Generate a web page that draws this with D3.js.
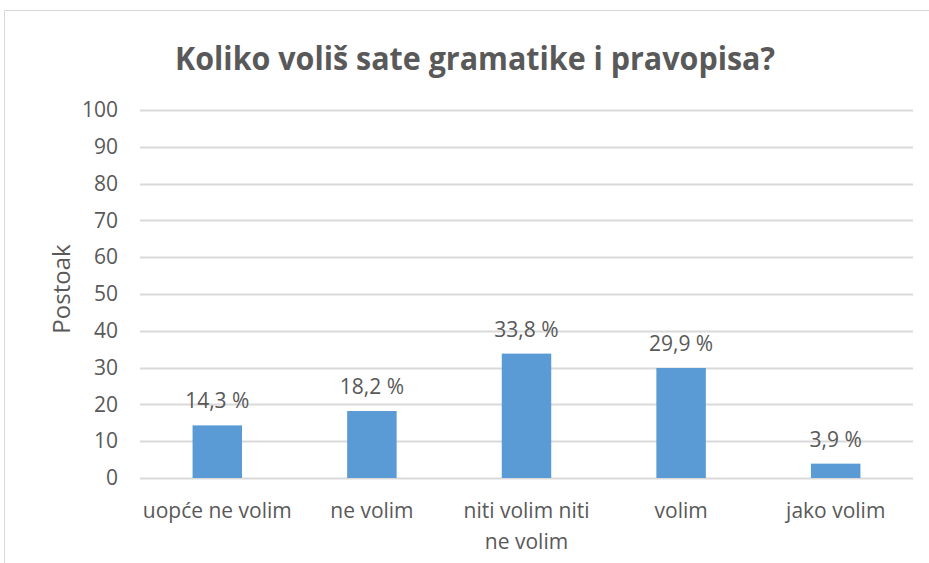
<!DOCTYPE html>
<html>
<head>
<meta charset="utf-8">
<script src="https://cdn.jsdelivr.net/npm/d3@7"></script>
<style>
  body { margin: 0; background: #fff; }
  text { font-family: "Open Sans", "Noto Sans", sans-serif; fill: #595959; }
</style>
</head>
<body>
<div id="chart-area"></div>
<script>
// data
var categories = ["uopće ne volim", "ne volim", "niti volim niti ne volim", "volim", "jako volim"];
var catLines = [["uopće ne volim"], ["ne volim"], ["niti volim niti", "ne volim"], ["volim"], ["jako volim"]];
var values = [14.3, 18.2, 33.8, 29.9, 3.9];
var yTicks = [0, 10, 20, 30, 40, 50, 60, 70, 80, 90, 100];

var W = 929, H = 563;
var margin = {top: 110, right: 16, bottom: 85, left: 140};
var width = W - margin.left - margin.right,
    height = H - margin.top - margin.bottom;

var svg = d3.select("#chart-area").append("svg")
    .attr("width", W)
    .attr("height", H);

// chart frame
svg.append("path")
    .attr("d", "M4.5," + H + "V10.5H" + W)
    .attr("fill", "none")
    .attr("stroke", "#d9d9d9")
    .attr("stroke-width", 1);

svg.append("text")
    .attr("x", 475)
    .attr("y", 70)
    .attr("text-anchor", "middle")
    .attr("font-size", 33)
    .attr("font-weight", "bold")
    .attr("textLength", 600)
    .attr("lengthAdjust", "spacingAndGlyphs")
    .text("Koliko voliš sate gramatike i pravopisa?");

var g = svg.append("g")
    .attr("transform", "translate(" + margin.left + "," + margin.top + ")");

var x = d3.scaleBand()
    .domain(categories)
    .range([0, width])
    .paddingInner(0.68)
    .paddingOuter(0.34);

var y = d3.scaleLinear()
    .domain([0, 100])
    .range([height, 0]);

// gridlines
g.selectAll(".grid")
    .data(yTicks)
    .enter().append("line")
    .attr("class", "grid")
    .attr("x1", 0)
    .attr("x2", width)
    .attr("y1", function (d) { return Math.round(y(d)) + 0.5; })
    .attr("y2", function (d) { return Math.round(y(d)) + 0.5; })
    .attr("stroke", "#d9d9d9")
    .attr("stroke-width", 2);

// y axis
var yAxis = g.append("g")
    .attr("class", "y-axis")
    .call(d3.axisLeft(y).tickValues(yTicks).tickSize(0).tickPadding(22));
yAxis.select(".domain").remove();
yAxis.selectAll("text")
    .attr("font-size", 21)
    .attr("fill", "#595959");

svg.append("text")
    .attr("transform", "translate(70," + (margin.top + height / 2 - 5) + ") rotate(-90)")
    .attr("text-anchor", "middle")
    .attr("font-size", 24)
    .text("Postoak");

// bars
g.selectAll(".bar")
    .data(values)
    .enter().append("rect")
    .attr("class", "bar")
    .attr("x", function (d, i) { return x(categories[i]); })
    .attr("width", x.bandwidth())
    .attr("y", function (d) { return y(d); })
    .attr("height", function (d) { return height - y(d); })
    .attr("fill", "#5b9bd5");

// value labels
g.selectAll(".val")
    .data(values)
    .enter().append("text")
    .attr("class", "val")
    .attr("x", function (d, i) { return x(categories[i]) + x.bandwidth() / 2; })
    .attr("y", function (d) { return y(d) - 17; })
    .attr("text-anchor", "middle")
    .attr("font-size", 21)
    .text(function (d) { return d.toFixed(1).replace(".", ",") + " %"; });

// category labels
var cat = g.selectAll(".cat")
    .data(catLines)
    .enter().append("text")
    .attr("class", "cat")
    .attr("text-anchor", "middle")
    .attr("font-size", 21)
    .attr("transform", function (d, i) {
        return "translate(" + (x(categories[i]) + x.bandwidth() / 2) + "," + (height + 40) + ")";
    });
cat.selectAll("tspan")
    .data(function (d) { return d; })
    .enter().append("tspan")
    .attr("x", 0)
    .attr("dy", function (d, i) { return i === 0 ? 0 : 31; })
    .text(function (d) { return d; });
</script>
</body>
</html>
